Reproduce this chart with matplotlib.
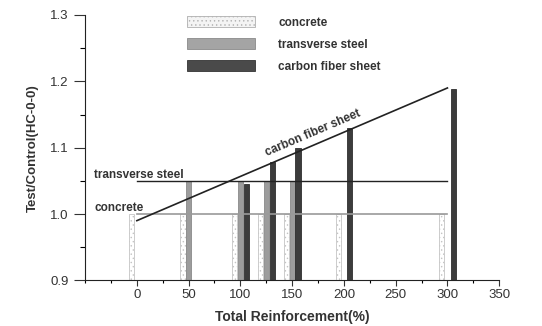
import matplotlib
matplotlib.use("Agg")
import matplotlib.pyplot as plt
from matplotlib.patches import Patch
from matplotlib.ticker import MultipleLocator

plt.rcParams["font.family"] = ["Liberation Sans", "DejaVu Sans"]
plt.rcParams["hatch.linewidth"] = 0.5

# total reinforcement (%) of each specimen group
concrete_x = [0, 50, 100, 125, 150, 200, 300]
concrete_val = [1.0, 1.0, 1.0, 1.0, 1.0, 1.0, 1.0]
steel_x = [50, 100, 125, 150]
steel_val = [1.05, 1.05, 1.05, 1.05]
carbon_x = [100, 125, 150, 200, 300]
carbon_val = [1.046, 1.078, 1.100, 1.130, 1.188]

# trend lines
line_x = [0, 300]
concrete_line = [1.0, 1.0]
steel_line = [1.05, 1.05]
carbon_line = [0.99, 1.19]

fig = plt.figure(figsize=(5.42, 3.26), dpi=100)
ax = fig.add_axes([0.157, 0.140, 0.764, 0.814])

w = 5
ax.bar([x - 5.5 for x in concrete_x], concrete_val, width=w, color="white",
       edgecolor="#c4c4c4", hatch="....", linewidth=0.6)
ax.bar(steel_x, steel_val, width=w, color="#9c9c9c", edgecolor="#8a8a8a", linewidth=0.6)
ax.bar([x + 5.7 for x in carbon_x], carbon_val, width=w, color="#3c3c3c",
       edgecolor="#2e2e2e", linewidth=0.6)

ax.plot(line_x, concrete_line, color="#9a9a9a", lw=1.2)
ax.plot(line_x, steel_line, color="#222222", lw=1.0)
ax.plot(line_x, carbon_line, color="#222222", lw=1.2)

ax.text(-41, 1.004, "concrete", fontsize=8.5, fontweight="bold", color="#333333")
ax.text(-41, 1.055, "transverse steel", fontsize=8.5, fontweight="bold", color="#333333")
ax.text(127, 1.083, "carbon fiber sheet", fontsize=8.5, fontweight="bold", color="#333333",
        rotation=23.1, rotation_mode="anchor", ha="left", va="bottom")

ax.set_xlim(-50, 350)
ax.set_ylim(0.9, 1.3)
ax.set_xticks([0, 50, 100, 150, 200, 250, 300, 350])
ax.set_yticks([0.9, 1.0, 1.1, 1.2, 1.3])
ax.xaxis.set_minor_locator(MultipleLocator(25))
ax.yaxis.set_minor_locator(MultipleLocator(0.05))
ax.set_yticklabels(["0.9", "1.0", "1.1", "1.2", "1.3"])
ax.spines["top"].set_visible(False)
ax.spines["right"].set_visible(False)
ax.spines["left"].set_color("#222222")
ax.spines["bottom"].set_color("#222222")
ax.tick_params(axis="x", which="major", length=4.5, width=0.8, pad=2, labelsize=9.5, colors="#333333")
ax.tick_params(axis="x", which="minor", length=2.5, width=0.8)
ax.tick_params(axis="y", which="major", length=8, width=0.8, pad=4, labelsize=9.5, colors="#333333")
ax.tick_params(axis="y", which="minor", length=3.5, width=0.8)

ax.set_xlabel("Total Reinforcement(%)", fontsize=10, fontweight="bold", color="#333333", labelpad=6)
ax.set_ylabel("Test/Control(HC-0-0)", fontsize=9.5, fontweight="bold", color="#333333", labelpad=8)

handles = [
    Patch(facecolor="#f4f4f4", edgecolor="#b0b0b0", hatch="....", linewidth=0.6),
    Patch(facecolor="#a4a4a4", edgecolor="#8a8a8a", linewidth=0.6),
    Patch(facecolor="#4a4a4a", edgecolor="#333333", linewidth=0.6),
]
labels = ["concrete", "transverse steel", "carbon fiber sheet"]
leg = fig.legend(handles, labels, loc="upper left", bbox_to_anchor=(187 / 542, 1 - 16.5 / 326),
                 frameon=False, borderpad=0, borderaxespad=0, fontsize=8.5,
                 handlelength=5.76, handleheight=1.02, handletextpad=1.95, labelspacing=0.8)
for t in leg.get_texts():
    t.set_fontweight("bold")
    t.set_color("#333333")

fig.savefig("out.png", dpi=100)
